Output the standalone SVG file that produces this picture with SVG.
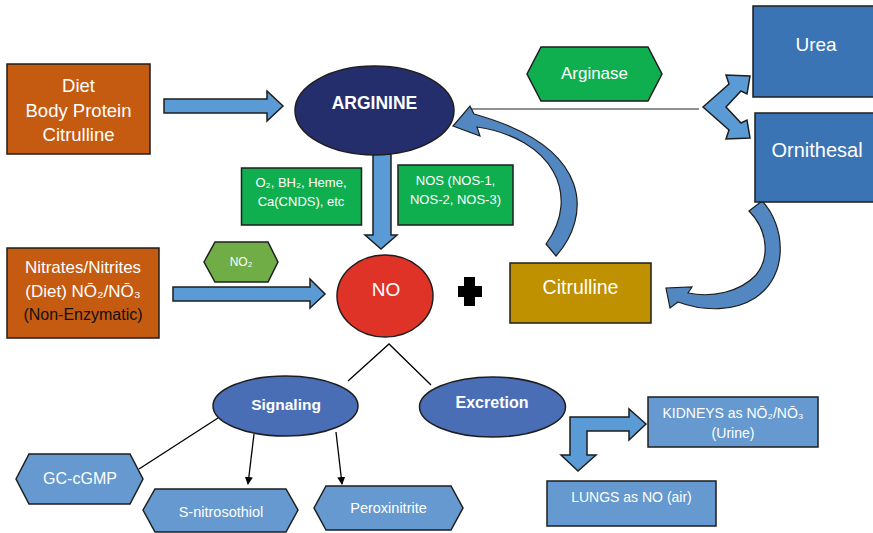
<svg xmlns="http://www.w3.org/2000/svg" width="873" height="533" viewBox="0 0 873 533">
<defs>
<style>
.t{font-family:"Liberation Sans",Arial,sans-serif;fill:#fff;text-anchor:middle}
.b{font-weight:bold}
.k{stroke:#1e1e1e;stroke-width:1.5}
.orange{fill:#C55A11}
.green{fill:#0FAF50}
.dblue{fill:#3A74B4}
.mblue{fill:#4A6EB6}
.lblue{fill:#6599CF}
.arr{fill:#5B9BD5;stroke:#1e1e1e;stroke-width:1.5}
.curv{fill:#5387C2;stroke:#1e1e1e;stroke-width:1.2}
.ln{stroke:#000;stroke-width:1.3;fill:none}
</style>
<marker id="ah" markerWidth="8" markerHeight="8" refX="7" refY="4" orient="auto" markerUnits="userSpaceOnUse">
<path d="M0,0 L8,4 L0,8 Z" fill="#000"/>
</marker>
</defs>
<rect width="873" height="533" fill="#fff"/>

<g id="connectors">
<polygon class="arr" points="164,99 267,99 267,91 283,106 267,121 267,113 164,113"/>
<polygon class="arr" points="373,154 391,154 391,235 397,235 381,249 365,235 373,235"/>
<polygon class="arr" points="173,287 310,287 310,279 325,294 310,308 310,301 173,301"/>
<line x1="468" y1="109" x2="699" y2="109" stroke="#222" stroke-width="1.2"/>
<polygon class="arr" points="703,107 729,84 726,75 750,76 747,94 741,91 726,107 741,123 747,120 750,138 726,139 729,130"/>
<path class="curv" d="M546,244 L556,256 C590,218 596,148 474,114 L470,106 L453,126 L480,136 L477,127 C552,138 582,195 546,244 Z"/>
<path class="curv" d="M749,211 L762,201 C785,225 790,275 755,298 C735,311 705,312 678,302 L670,308 L666,288 L692,287 L688,293 C712,298 740,292 756,275 C770,258 768,230 749,211 Z"/>
<path d="M464,277 H475 V286 H482 V297 H475 V306 H464 V297 H458 V286 H464 Z" fill="#000"/>
<polyline class="ln" points="348,381 389,344 431,385"/>
<line class="ln" x1="218" y1="418" x2="139" y2="469"/>
<line class="ln" x1="254" y1="434" x2="248" y2="484" marker-end="url(#ah)"/>
<line class="ln" x1="336" y1="432" x2="342" y2="484" marker-end="url(#ah)"/>
<polygon class="arr" points="646,424 629,409 629,417 570,417 570,455 561,455 578,471 596,455 587,455 587,431 629,431 629,440"/>
</g>

<g id="diet">
<rect class="orange k" x="7" y="64" width="143" height="90"/>
<text class="t" font-size="18.5" x="78.5" y="92">Diet</text>
<text class="t" font-size="18.5" x="78.5" y="117">Body Protein</text>
<text class="t" font-size="18.5" x="78.5" y="141">Citrulline</text>
</g>

<g id="arginine">
<ellipse class="k" cx="374.5" cy="110.5" rx="79.5" ry="44.5" fill="#252E6C"/>
<text class="t b" font-size="17.5" x="374.5" y="109">ARGININE</text>
</g>

<g id="cofactors">
<rect class="green k" x="241.5" y="168" width="120" height="57"/>
<text class="t" font-size="13" x="301" y="187">O₂, BH₂, Heme,</text>
<text class="t" font-size="13" x="301" y="206">Ca(CNDS), etc</text>
</g>

<g id="nos">
<rect class="green k" x="398" y="165" width="115" height="60"/>
<text class="t" font-size="13" x="455.5" y="185">NOS (NOS-1,</text>
<text class="t" font-size="13" x="455.5" y="204">NOS-2, NOS-3)</text>
</g>

<g id="arginase">
<polygon class="green k" points="527,74 541,47 648,47 662,74 648,101 541,101"/>
<text class="t" font-size="17" x="594.5" y="79">Arginase</text>
</g>

<g id="urea">
<rect class="dblue k" x="753" y="6" width="130" height="91"/>
<text class="t" font-size="19" x="816" y="51">Urea</text>
</g>

<g id="ornithesal">
<rect class="dblue k" x="755" y="113" width="130" height="89"/>
<text class="t" font-size="20" x="817" y="157">Ornithesal</text>
</g>

<g id="nitrates">
<rect class="orange k" x="7" y="248" width="152" height="90"/>
<text class="t" font-size="17" x="83" y="273">Nitrates/Nitrites</text>
<text class="t" font-size="17" x="83" y="297">(Diet) NŌ₂/NŌ₃</text>
<text class="t" font-size="16" x="83" y="320" style="fill:#111">(Non-Enzymatic)</text>
</g>

<g id="no2">
<polygon class="k" points="204,262 215,242 268,242 278,262 268,282 215,282" fill="#70AD47"/>
<text class="t" font-size="12" x="241" y="266">NO₂</text>
</g>

<g id="no">
<ellipse class="k" cx="385" cy="296" rx="48" ry="41" fill="#E03328"/>
<text class="t" font-size="19" x="386" y="296">NO</text>
</g>

<g id="citrulline">
<rect class="k" x="510" y="263" width="141" height="60" fill="#BF9000"/>
<text class="t" font-size="19.5" x="580.5" y="294">Citrulline</text>
</g>

<g id="signaling">
<ellipse class="mblue k" cx="285.5" cy="406" rx="72.5" ry="30"/>
<text class="t b" font-size="15.5" x="286" y="410">Signaling</text>
</g>

<g id="excretion">
<ellipse class="mblue k" cx="492.5" cy="407" rx="73" ry="30"/>
<text class="t b" font-size="16" x="492" y="408">Excretion</text>
</g>

<g id="gc-cgmp">
<polygon class="lblue k" points="16,479 29,454 130,454 143,479 130,504 29,504"/>
<text class="t" font-size="16" x="80" y="484">GC-cGMP</text>
</g>

<g id="s-nitrosothiol">
<polygon class="lblue k" points="143,510 155,489 286,489 298,510 286,532 155,532"/>
<text class="t" font-size="14.5" x="221" y="517">S-nitrosothiol</text>
</g>

<g id="peroxinitrite">
<polygon class="lblue k" points="314,508 326,486 451,486 463,508 451,530 326,530"/>
<text class="t" font-size="14.5" x="388.5" y="513">Peroxinitrite</text>
</g>

<g id="kidneys">
<rect class="lblue k" x="648" y="397" width="170" height="50"/>
<text class="t" font-size="14" x="733" y="418">KIDNEYS as NŌ₂/NŌ₃</text>
<text class="t" font-size="14" x="733" y="438">(Urine)</text>
</g>

<g id="lungs">
<rect class="lblue k" x="547" y="481" width="169" height="45"/>
<text class="t" font-size="14" x="631.5" y="502">LUNGS as NO (air)</text>
</g>
</svg>
